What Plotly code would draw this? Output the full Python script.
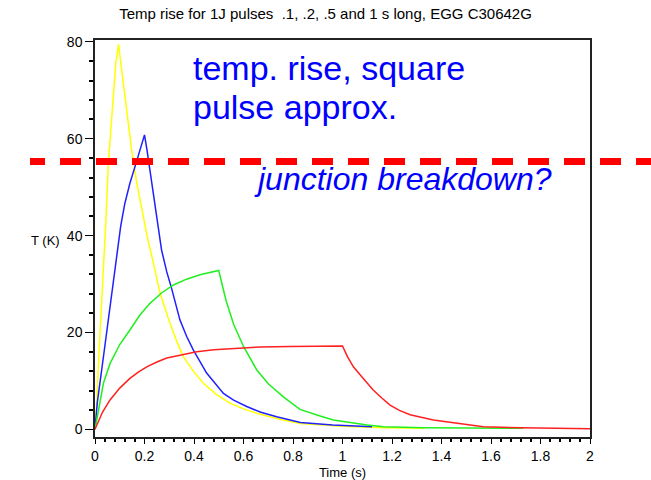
import plotly.graph_objects as go

# Temperature rise of the EGG C30642G for 1 J pulses of different lengths
yellow_t = [0, 0.007, 0.016, 0.031, 0.043, 0.054, 0.061, 0.074, 0.084, 0.095, 0.114, 0.13,
            0.148, 0.17, 0.195, 0.215, 0.236, 0.263, 0.303, 0.33, 0.357, 0.4, 0.438, 0.49,
            0.545, 0.6, 0.653, 0.75, 0.83, 1.0, 1.17, 1.33]
yellow_T = [0, 5, 15.7, 29.5, 42, 55, 60, 68.7, 75.6, 79.5, 72, 64.5,
            57.7, 50.5, 43.9, 38.8, 34.3, 28.1, 21.9, 18.2, 15, 11.8, 9.5, 7.2,
            5.4, 4.2, 3.3, 2.0, 1.2, 0.6, 0.3, 0.2]

blue_t = [0, 0.009, 0.036, 0.055, 0.074, 0.092, 0.104, 0.12, 0.141, 0.162, 0.18, 0.2,
          0.21, 0.23, 0.249, 0.269, 0.29, 0.31, 0.343, 0.37, 0.397, 0.451, 0.519, 0.56,
          0.613, 0.67, 0.734, 0.83, 0.96, 1.12]
blue_T = [0, 5.4, 15.7, 23, 30, 37.5, 42, 46.5, 50.8, 54.3, 57.5, 60.8,
          57.7, 50.5, 43.9, 37, 32.5, 29, 22.6, 19.2, 16.4, 11.6, 7.4, 6.0,
          4.7, 3.5, 2.6, 1.4, 0.9, 0.5]

green_t = [0, 0.01, 0.02, 0.034, 0.061, 0.1, 0.141, 0.18, 0.222, 0.27, 0.317, 0.37,
           0.424, 0.5, 0.512, 0.53, 0.56, 0.6, 0.653, 0.7, 0.761, 0.828, 0.9, 0.963,
           1.1, 1.165, 1.33, 1.73]
green_T = [0, 3, 5.4, 9.5, 13.6, 17.5, 20.5, 23.5, 26, 28.2, 29.8, 31,
           31.9, 32.8, 30.2, 26.5, 21.7, 17.1, 12.3, 9.4, 6.7, 4.1, 2.9, 1.9,
           0.9, 0.5, 0.3, 0.2]

red_t = [0, 0.03, 0.06, 0.1, 0.141, 0.175, 0.209, 0.25, 0.29, 0.35, 0.411, 0.48,
         0.559, 0.67, 0.788, 0.9, 1.0, 1.02, 1.044, 1.077, 1.124, 1.16, 1.192, 1.23,
         1.273, 1.367, 1.475, 1.569, 1.724, 2.0]
red_T = [0, 3.5, 6, 8.5, 10.5, 11.8, 12.9, 13.9, 14.7, 15.4, 16, 16.4,
         16.7, 17.0, 17.1, 17.2, 17.2, 15, 12.9, 10.9, 8.1, 6.4, 5.0, 3.9,
         3.0, 1.9, 1.2, 0.5, 0.3, 0.1]

breakdown_T = 55.3

series = [
    (yellow_t, yellow_T, "#ffff00"),
    (blue_t, blue_T, "#2020ff"),
    (green_t, green_T, "#20f020"),
    (red_t, red_T, "#ff2020"),
]

FONT = "Liberation Sans, Arial, sans-serif"

fig = go.Figure()
for t, T, c in series:
    fig.add_trace(go.Scatter(x=t, y=T, mode="lines",
                             line=dict(color=c, width=1.5), hoverinfo="skip"))

# dashed threshold line, running past both sides of the frame
fig.add_shape(type="line", xref="paper", yref="y",
              x0=-0.1313, x1=-0.1010, y0=breakdown_T, y1=breakdown_T,
              line=dict(color="#ff0000", width=7), layer="above")
fig.add_shape(type="line", xref="paper", yref="y",
              x0=-0.0707, x1=1.125, y0=breakdown_T, y1=breakdown_T,
              line=dict(color="#ff0000", width=7, dash="21px,15px"), layer="above")

blue_txt = "#0000ff"
fig.add_annotation(x=0.386, y=74.7, xref="x", yref="y", text="temp. rise, square",
                   showarrow=False, xanchor="left", yanchor="middle",
                   font=dict(family=FONT, size=34, color=blue_txt))
fig.add_annotation(x=0.386, y=66.5, xref="x", yref="y", text="pulse approx.",
                   showarrow=False, xanchor="left", yanchor="middle",
                   font=dict(family=FONT, size=34, color=blue_txt))
fig.add_annotation(x=0.634, y=51.6, xref="x", yref="y", text="<i>junction breakdown?</i>",
                   showarrow=False, xanchor="left", yanchor="middle",
                   font=dict(family=FONT, size=32, color=blue_txt))
fig.add_annotation(x=-0.0673, y=39, xref="paper", yref="y", text="T (K)",
                   showarrow=False, xanchor="right", yanchor="middle",
                   font=dict(family=FONT, size=13, color="black"))

axis_common = dict(showgrid=False, zeroline=False, showline=True, mirror=True,
                   automargin=False,
                   linecolor="#222222", linewidth=1.5, ticks="outside",
                   tickcolor="black", tickwidth=1.2,
                   tickfont=dict(family=FONT, size=14, color="black"))

fig.update_xaxes(range=[0, 2], dtick=0.2, tick0=0, ticklen=5,
                 minor=dict(dtick=0.04, tick0=0, ticklen=3, ticks="outside",
                            tickcolor="black", tickwidth=1.5),
                 title=dict(text="Time (s)", standoff=6,
                            font=dict(family=FONT, size=13, color="black")),
                 **axis_common)
fig.update_yaxes(range=[-1.6, 80.4], dtick=20, tick0=0, ticklen=8,
                 minor=dict(dtick=4, tick0=0, ticklen=4, ticks="outside",
                            tickcolor="black", tickwidth=1.5),
                 **axis_common)

fig.update_layout(
    width=651, height=480,
    margin=dict(l=95, r=61, t=40, b=43),
    paper_bgcolor="white", plot_bgcolor="white",
    showlegend=False,
    title=dict(text="Temp rise for 1J pulses  .1, .2, .5 and 1 s long, EGG C30642G",
               x=0.5, xanchor="center", y=1 - 14 / 480, yanchor="middle",
               font=dict(family=FONT, size=15, color="black")),
)

fig.write_html("out.html")
